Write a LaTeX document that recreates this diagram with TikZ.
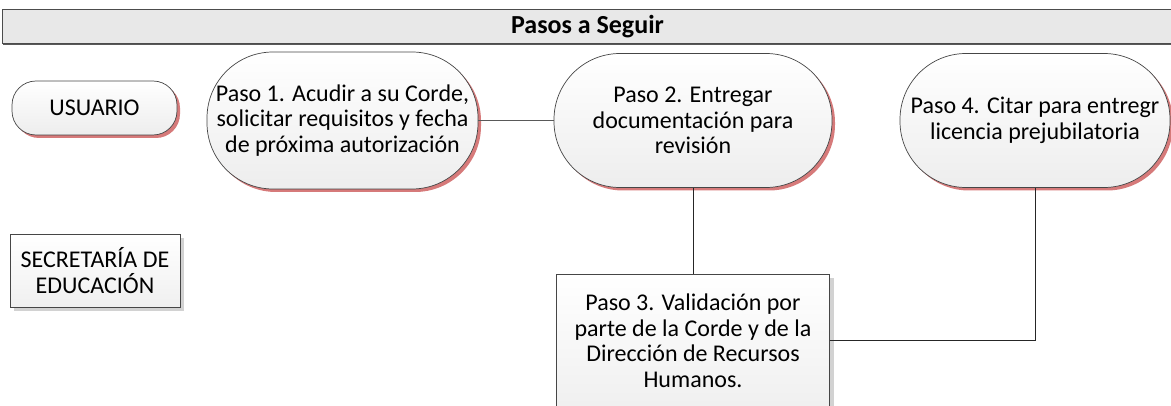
\documentclass[tikz,border=0pt]{standalone}
\usepackage{fontspec}
\setmainfont{Carlito}
\usetikzlibrary{shadows}
\usetikzlibrary{positioning}

\definecolor{sombraroja}{RGB}{214,122,122}
\definecolor{borde}{RGB}{70,70,70}

\begin{document}
\begin{tikzpicture}[
        x=1pt, y=-1pt,
        pill/.style={rectangle, rounded corners=66pt, draw=borde, line width=0.7pt,
            top color=white, bottom color=gray!14, inner sep=0, align=center,
            font=\fontsize{24}{25.5}\selectfont,
            drop shadow={shadow xshift=3pt, shadow yshift=-3pt, fill=sombraroja, opacity=1}},
        caja/.style={rectangle, draw=borde, line width=0.7pt,
            top color=white, bottom color=gray!12, inner sep=0, align=center,
            font=\fontsize{24}{25.5}\selectfont,
            drop shadow={shadow xshift=4pt, shadow yshift=-4pt, fill=gray!35, opacity=1}},
        titulo/.style={rectangle, draw=black!70, fill=gray!18, inner sep=0,
            font=\bfseries\fontsize{26}{28}\selectfont,
            drop shadow={shadow xshift=0pt, shadow yshift=-2pt, fill=black!65, opacity=1}},
        linea/.style={draw=black!85, line width=1pt}
    ]
        \useasboundingbox (0,0) rectangle (1171,406);

        % barra de titulo
        \node[titulo, minimum width=1170pt, minimum height=34pt] (titulo) at (587.5,26.5) {Pasos a Seguir};

        % actores
        \node[pill, minimum width=165pt, minimum height=54pt, rounded corners=24pt] (usuario) at (94.5,108) {USUARIO};
        \node[caja, minimum width=170pt, minimum height=73pt] (secretaria) at (95,270.5) {SECRETARÍA DE\\EDUCACIÓN};

        % pasos
        \node[pill, minimum width=271pt, minimum height=137pt] (paso1) at (342.5,120.5)
            {Paso 1. Acudir a su Corde,\\solicitar requisitos y fecha\\de próxima autorización};
        \node[pill, minimum width=278pt, minimum height=134pt] (paso2) at (693,120.5)
            {Paso 2. Entregar\\documentación para\\revisión};
        \node[caja, minimum width=273pt, minimum height=134pt] (paso3) at (693,341)
            {Paso 3. Validación por\\parte de la Corde y de la\\Dirección de Recursos\\Humanos.};
        \node[pill, minimum width=270pt, minimum height=134pt] (paso4) at (1035,120.5)
            {Paso 4. Citar para entregr\\licencia prejubilatoria};

        % conexiones
        \draw[linea, draw=black!65, line width=0.7pt] (paso1.east) -- (paso2.west);
        \draw[linea] (paso2.south) -- (paso3.north);
        \draw[linea] (paso3.east) -| (paso4.south);

    \end{tikzpicture}
\end{document}
